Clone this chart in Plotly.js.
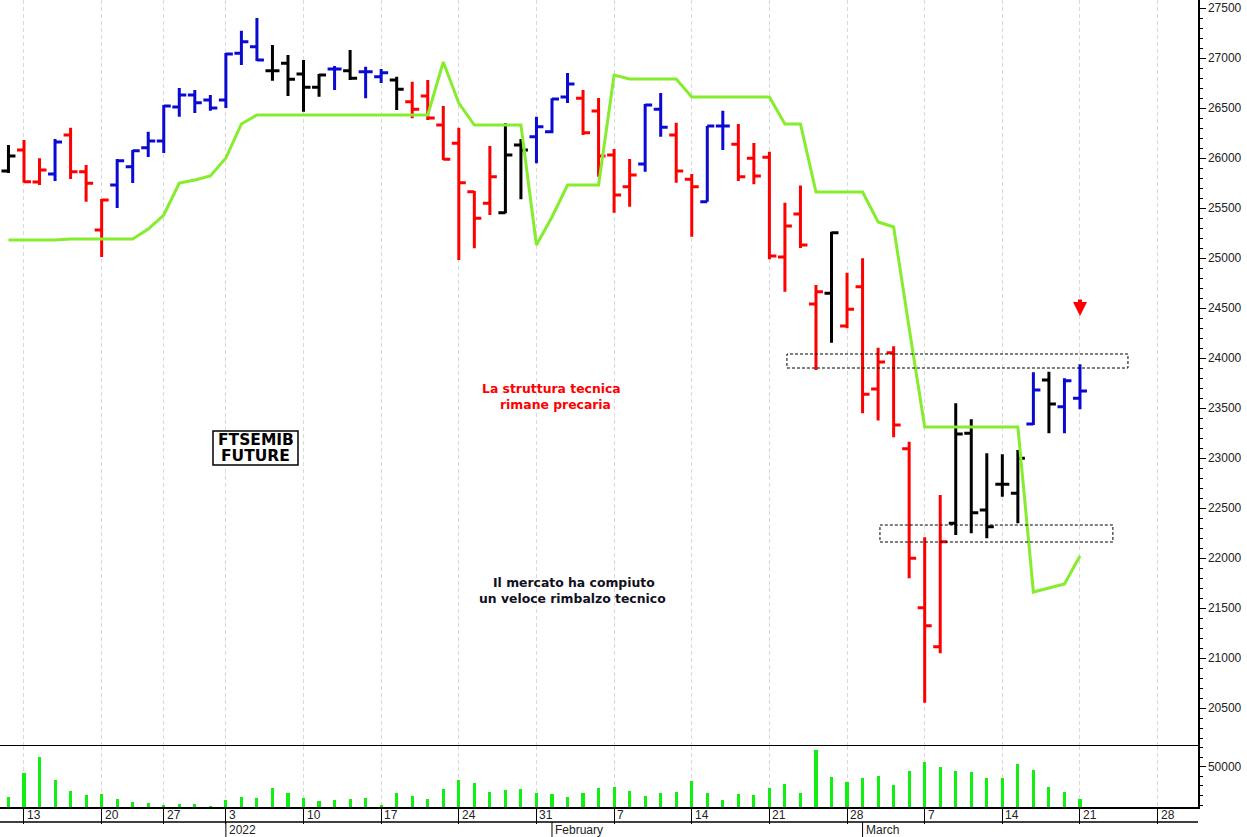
<!DOCTYPE html>
<html><head><meta charset="utf-8">
<script src="https://cdn.plot.ly/plotly-3.0.1.min.js"></script>
<style>html,body{margin:0;padding:0;background:#fff;} #chart{width:1247px;height:837px;}</style>
</head><body><div id="chart"></div>
<script>
// ---- data ----
const dates = [
 '2021-12-10','2021-12-13','2021-12-14','2021-12-15','2021-12-16','2021-12-17',
 '2021-12-20','2021-12-21','2021-12-22','2021-12-23',
 '2021-12-27','2021-12-28','2021-12-29','2021-12-30',
 '2022-01-03','2022-01-04','2022-01-05','2022-01-06','2022-01-07',
 '2022-01-10','2022-01-11','2022-01-12','2022-01-13','2022-01-14',
 '2022-01-17','2022-01-18','2022-01-19','2022-01-20','2022-01-21',
 '2022-01-24','2022-01-25','2022-01-26','2022-01-27','2022-01-28',
 '2022-01-31','2022-02-01','2022-02-02','2022-02-03','2022-02-04',
 '2022-02-07','2022-02-08','2022-02-09','2022-02-10','2022-02-11',
 '2022-02-14','2022-02-15','2022-02-16','2022-02-17','2022-02-18',
 '2022-02-21','2022-02-22','2022-02-23','2022-02-24','2022-02-25',
 '2022-02-28','2022-03-01','2022-03-02','2022-03-03','2022-03-04',
 '2022-03-07','2022-03-08','2022-03-09','2022-03-10','2022-03-11',
 '2022-03-14','2022-03-15','2022-03-16','2022-03-17','2022-03-18',
 '2022-03-21'];
const futureDates = ['2022-03-22','2022-03-23','2022-03-24','2022-03-25',
 '2022-03-28','2022-03-29','2022-03-30','2022-03-31','2022-04-01'];

const opens = [25870,26080,25760,25840,26230,25863,25280,25730,25913,26103,
 26170,26510,26630,26580,26580,27047,27113,26873,26947,26840,
 26707,26890,26873,26863,26813,26780,26563,26620,26330,26147,
 25663,25547,25453,26130,26213,26263,26610,26597,26470,26030,
 25713,25940,26487,26230,25787,25563,26320,26137,25997,26007,
 25010,25440,24540,24647,24320,24713,23690,24053,23093,21503,
 21113,22347,23247,22480,22737,22647,23340,23780,23513,23597];
const highs = [26130,26180,25997,26190,26303,25930,25590,25990,26080,26263,
 26530,26700,26680,26630,27050,27273,27400,27130,27030,26980,
 26840,26920,27080,26913,26890,26813,26763,26780,26520,26303,
 25670,26120,26347,26190,26413,26597,26850,26680,26600,26090,
 25990,26540,26650,26353,25840,26320,26473,26340,26150,26063,
 25553,25725,24730,25263,24853,24997,24103,24117,23163,22207,
 22630,23547,23387,23047,23037,23080,23857,23863,23797,23937];
const lows = [25850,25753,25730,25770,25790,25563,25010,25500,25750,26010,
 26050,26413,26450,26473,26500,26930,26970,26773,26620,26463,
 26613,26680,26780,26597,26750,26480,26397,26380,25980,24980,
 25097,25430,25447,25587,25947,26247,26550,26230,25813,25453,
 25513,25863,26213,25753,25213,25563,26080,25770,25737,24987,
 24663,25100,23880,24153,24297,23447,23375,23207,21797,20553,
 21047,22230,22247,22197,22613,22347,23330,23247,23247,23487];
const closes = [26020,25763,25880,26160,25863,25747,25580,25973,26073,26170,
 26520,26630,26553,26500,27040,27163,26980,26873,26787,26707,
 26830,26890,26797,26863,26853,26687,26487,26400,25987,25753,
 25397,25813,26030,26080,26313,26590,26740,26253,26020,25630,
 25830,26530,26307,25870,25713,26320,26320,25813,25820,25020,
 25320,25130,24663,25253,24487,23637,23960,23330,21997,21323,
 22163,23240,22453,22313,22737,22997,23680,23540,23773,23670];
// bar colour class: K = black, R = red, B = blue
const barClass = ['K','R','R','B','R','R','R','B','B','B',
 'B','B','B','B','B','B','B','K','K','K',
 'K','B','K','B','B','K','R','R','R','R',
 'R','R','K','K','B','B','B','R','R','R',
 'R','B','B','R','R','B','B','R','R','R',
 'R','R','R','K','R','R','R','R','R','R',
 'R','K','K','K','K','K','B','K','B','B'];
const trendLine = [25180,25180,25180,25180,25190,25190,25190,25190,25190,25290,
 25430,25750,25780,25820,26000,26340,26430,26430,26430,26430,
 26430,26430,26430,26430,26430,26430,26430,26430,26960,26550,
 26330,26330,26330,26330,25130,25410,25730,25730,25730,26830,
 26790,26790,26790,26790,26610,26610,26610,26610,26610,26610,
 26340,26340,25660,25660,25660,25660,25360,25310,24300,23310,
 23310,23310,23310,23310,23310,23310,21660,21700,21740,22020];
const volumes = [18750,43100,60400,36100,25000,20500,21560,16350,12900,12200,
 10100,11150,11150,9060,15300,18100,17050,27500,22300,17050,
 14600,15300,16000,17050,10100,22950,19800,16000,26800,36100,
 33300,24000,25700,26800,22300,21200,18450,22300,27500,28700,
 24700,19800,22600,23300,34800,22600,15600,21200,20500,27500,
 32000,22600,67400,39000,34100,37900,40300,30600,45800,54900,
 49400,45800,44100,37900,37900,52800,46200,28500,23300,16700];

const weekTickDates = ['2021-12-13','2021-12-20','2021-12-27','2022-01-03','2022-01-10',
 '2022-01-17','2022-01-24','2022-01-31','2022-02-07','2022-02-14','2022-02-21',
 '2022-02-28','2022-03-07','2022-03-14','2022-03-21','2022-03-28'];
const weekTickLabels = ['13','20','27','3','10','17','24','31','7','14','21','28','7','14','21','28'];
const monthStartDates = ['2022-01-03','2022-02-01','2022-03-01'];
const monthLabels = ['2022','February','March'];
const priceTicks = [20500,21000,21500,22000,22500,23000,23500,24000,24500,25000,25500,26000,26500,27000,27500];
const volumeTicks = [50000];
const zoneUpper = [23900, 24040];
const zoneLower = [22160, 22330];

// ---- helpers ----
const sessions = dates.concat(futureDates);
const idx = d => sessions.indexOf(d);
const X = dates.map(idx);
const W = 1198, H = 807;
const px = x => x / W;
const py = y => (H - y) / H;

const colorMap = {R: '#ff0000', B: '#0a0ad2', K: '#000000'};
function ohlcTrace(code) {
  const sel = [];
  barClass.forEach((c, i) => { if (c === code) sel.push(i); });
  const col = colorMap[code];
  return {
    type: 'ohlc', xaxis: 'x', yaxis: 'y',
    x: sel.map(i => X[i]), open: sel.map(i => opens[i]), high: sel.map(i => highs[i]),
    low: sel.map(i => lows[i]), close: sel.map(i => closes[i]),
    tickwidth: 0.45, line: {width: 3},
    increasing: {line: {color: col, width: 3}},
    decreasing: {line: {color: col, width: 3}},
    hoverinfo: 'skip', showlegend: false
  };
}

const traces = [
  {type: 'scatter', mode: 'lines', x: X, y: trendLine, xaxis: 'x', yaxis: 'y',
   line: {color: '#86ec2e', width: 3}, hoverinfo: 'skip', showlegend: false},
  ohlcTrace('R'), ohlcTrace('B'), ohlcTrace('K'),
  {type: 'bar', x: X, y: volumes, xaxis: 'x2', yaxis: 'y2', width: 0.2,
   marker: {color: '#11ee11', line: {width: 0}}, hoverinfo: 'skip', showlegend: false}
];

const weekX = weekTickDates.map(idx);
const xr = [-0.545, 76.6];
const gridStyle = {showgrid: true, gridcolor: '#d9d9d9', griddash: '4px,3px', gridwidth: 1};

const annotations = [];
weekX.forEach((x, i) => annotations.push({
  x: x, xref: 'x', y: py(815), yref: 'paper', text: weekTickLabels[i],
  xanchor: 'left', yanchor: 'middle', xshift: 1, showarrow: false,
  font: {family: 'Liberation Sans, Arial, sans-serif', size: 12, color: '#222'}
}));
monthStartDates.forEach((d, i) => annotations.push({
  x: idx(d), xref: 'x', y: py(830), yref: 'paper', text: monthLabels[i],
  xanchor: 'left', yanchor: 'middle', xshift: 1, showarrow: false,
  font: {family: 'Liberation Sans, Arial, sans-serif', size: 12, color: '#222'}
}));
const tFont = (c, s) => ({family: 'DejaVu Sans, Verdana, sans-serif', size: s, color: c, weight: 'bold'});
const txt = (x, y, t, c, s) => ({x: px(x), y: py(y), xref: 'paper', yref: 'paper', text: t,
  xanchor: 'center', yanchor: 'middle', showarrow: false, font: tFont(c, s)});
annotations.push(
  txt(551, 388, 'La struttura tecnica', '#ff0000', 12.4),
  txt(555, 405, 'rimane precaria', '#ff0000', 12.4),
  txt(574, 582, 'Il mercato ha compiuto', '#111122', 12.4),
  txt(572, 598, 'un veloce rimbalzo tecnico', '#111122', 12.4),
  txt(255.5, 440, 'FTSEMIB', '#000000', 15.5),
  txt(255.5, 456, 'FUTURE', '#000000', 15.5),
  {x: idx('2022-03-21'), xref: 'x', y: 24420, yref: 'y', text: '', showarrow: true,
   ax: 0, ay: -18, arrowhead: 2, arrowsize: 0.7, arrowwidth: 4, arrowcolor: '#ff0000', standoff: 0}
);

const shapes = [
  {type: 'rect', xref: 'x', yref: 'y', x0: 50.13, x1: 72.09, y0: zoneUpper[0], y1: zoneUpper[1],
   line: {color: '#000', width: 1, dash: '3px,2px'}},
  {type: 'rect', xref: 'x', yref: 'y', x0: 56.12, x1: 71.12, y0: zoneLower[0], y1: zoneLower[1],
   line: {color: '#000', width: 1, dash: '3px,2px'}},
  {type: 'rect', xref: 'paper', yref: 'paper', x0: px(213), x1: px(298), y0: py(431), y1: py(465),
   line: {color: '#000', width: 1.5}, fillcolor: '#ffffff', layer: 'above'},
  {type: 'line', xref: 'paper', yref: 'paper', x0: 0, x1: 1, y0: py(822), y1: py(822),
   line: {color: '#000', width: 1.5}}
];
monthStartDates.forEach(d => shapes.push({type: 'line', xref: 'x', yref: 'paper',
  x0: idx(d), x1: idx(d), y0: py(822), y1: py(837), line: {color: '#000', width: 1}}));

const layout = {
  width: 1247, height: 837,
  margin: {l: 0, r: 49, t: 0, b: 30, pad: 0},
  paper_bgcolor: '#ffffff', plot_bgcolor: '#ffffff',
  showlegend: false,
  xaxis: Object.assign({domain: [0, 1], range: xr, anchor: 'y', tickmode: 'array', tickvals: weekX,
    showticklabels: false, ticks: '', zeroline: false, showline: false,
    rangeslider: {visible: false}}, gridStyle),
  xaxis2: Object.assign({domain: [0, 1], range: xr, anchor: 'y2', matches: 'x', tickmode: 'array', tickvals: weekX,
    showticklabels: false, ticks: 'outside', ticklen: 15, tickcolor: '#000', tickwidth: 1,
    zeroline: false, showline: true, mirror: true, linecolor: '#000', linewidth: 1.5,
    rangeslider: {visible: false}}, gridStyle),
  yaxis: {domain: [py(746), 1], range: [20120, 27580], side: 'right', anchor: 'x',
    tickmode: 'array', tickvals: priceTicks, ticktext: priceTicks.map(String),
    ticks: 'outside', ticklen: 6, tickcolor: '#000', showgrid: false, zeroline: false,
    showline: true, linecolor: '#000', linewidth: 1.5,
    minor: {tickmode: 'linear', tick0: 0, dtick: 100, ticks: 'outside', ticklen: 3, tickcolor: '#000', showgrid: false},
    tickfont: {family: 'Liberation Sans, Arial, sans-serif', size: 12, color: '#222'}},
  yaxis2: {domain: [0, py(746)], range: [8000, 71500], side: 'right', anchor: 'x2',
    tickmode: 'array', tickvals: volumeTicks, ticktext: volumeTicks.map(String),
    ticks: 'outside', ticklen: 6, tickcolor: '#000', showgrid: false, zeroline: false,
    showline: true, linecolor: '#000', linewidth: 1.5,
    minor: {tickmode: 'linear', tick0: 0, dtick: 10000, ticks: 'outside', ticklen: 3, tickcolor: '#000', showgrid: false},
    tickfont: {family: 'Liberation Sans, Arial, sans-serif', size: 12, color: '#222'}},
  bargap: 0,
  annotations: annotations,
  shapes: shapes
};

Plotly.newPlot('chart', traces, layout, {staticPlot: true, displayModeBar: false});
</script>
</body></html>
